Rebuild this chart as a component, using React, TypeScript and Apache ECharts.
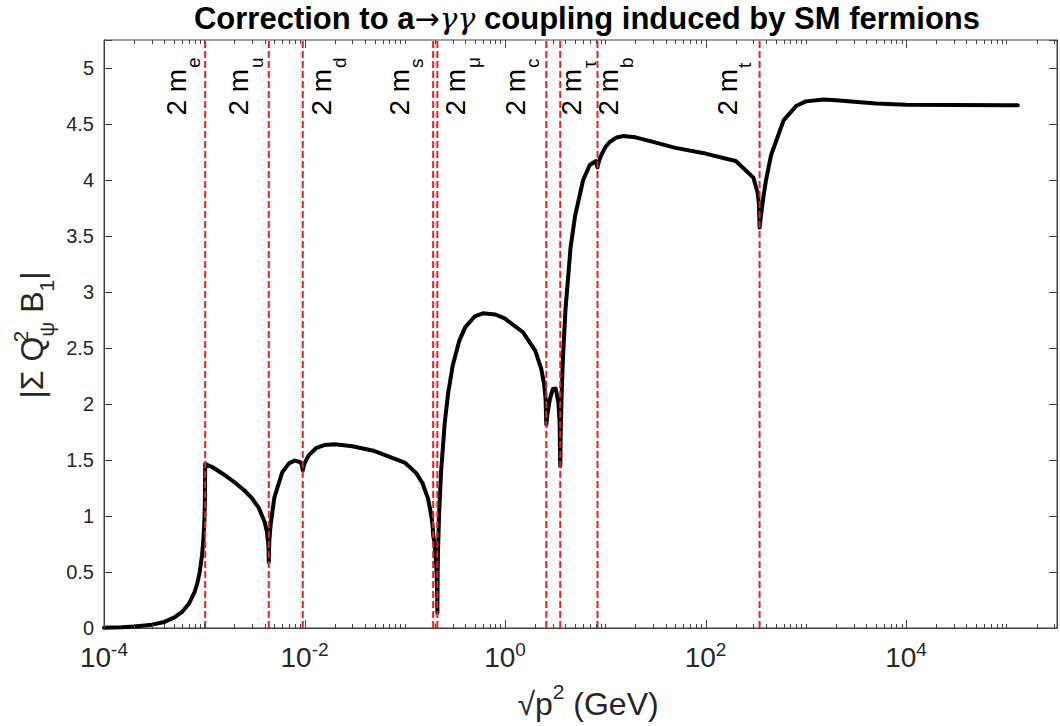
import React, { useEffect, useRef } from 'react';
import * as echarts from 'echarts';

// sqrt(p^2) in GeV
const xs = [1e-4, 1.5e-4, 2e-4, 3e-4, 4e-4, 5e-4, 6e-4, 7e-4, 8e-4, 8.5e-4, 9e-4, 9.5e-4, 9.8e-4, 1.0e-3, 1.01e-3, 1.017e-3, 1.022e-3,
  1.05e-3, 1.2e-3, 1.5e-3, 2e-3, 2.5e-3, 3e-3, 3.5e-3, 4e-3, 4.2e-3, 4.35e-3, 4.38e-3, 4.4e-3, 4.45e-3, 4.6e-3, 5e-3, 6e-3, 7e-3, 8e-3,
  9e-3, 9.4e-3, 9.6e-3, 1e-2, 1.1e-2, 1.3e-2, 1.6e-2, 2e-2, 3e-2, 5e-2, 0.1, 0.13, 0.15, 0.17, 0.18, 0.186, 0.19, 0.192, 0.195, 0.2,
  0.205, 0.207, 0.209, 0.2105, 0.2113, 0.213, 0.215, 0.22, 0.23, 0.25, 0.27, 0.3, 0.35, 0.4, 0.5, 0.6, 0.8, 1.0, 1.5, 2.0, 2.3, 2.45,
  2.5, 2.54, 2.58, 2.65, 2.8, 3.0, 3.2, 3.4, 3.5, 3.554, 3.6, 3.7, 3.8, 4.0, 4.5, 5.0, 6.0, 7.0, 8.0, 8.36, 8.5, 9.0, 10, 11, 13, 15,
  20, 30, 50, 100, 150, 200, 300, 330, 340, 346, 355, 380, 400, 450, 600, 800, 1000, 1500, 2000, 5000, 1e4, 1e5, 1.3e5];

// |Σ Q² B1|
const ys = [0.003, 0.007, 0.013, 0.030, 0.054, 0.092, 0.143, 0.214, 0.321, 0.394, 0.497, 0.647, 0.788, 0.939, 1.056, 1.19, 1.467,
  1.46, 1.437, 1.382, 1.302, 1.23, 1.157, 1.072, 0.946, 0.866, 0.749, 0.697, 0.59, 0.771, 0.928, 1.164, 1.391, 1.47, 1.495,
  1.482, 1.459, 1.407, 1.471, 1.541, 1.605, 1.635, 1.641, 1.623, 1.58, 1.477, 1.383, 1.295, 1.159, 1.05, 0.971, 0.896, 0.827, 0.791, 0.712,
  0.589, 0.516, 0.409, 0.278, 0.136, 0.534, 0.721, 1.02, 1.391, 1.827, 2.089, 2.339, 2.566, 2.684, 2.783, 2.81, 2.799, 2.762, 2.643, 2.477, 2.311, 2.179,
  2.108, 2.03, 1.817, 1.911, 2.044, 2.135, 2.138, 2.019, 1.84, 1.445, 1.81, 2.188, 2.451, 2.833, 3.396, 3.681, 3.998, 4.134, 4.169, 4.112, 4.146, 4.212, 4.292, 4.338, 4.38, 4.392,
  4.381, 4.34, 4.287, 4.236, 4.196, 4.17, 4.021, 3.889, 3.79, 3.575, 3.665, 3.868, 3.995, 4.221, 4.532, 4.661, 4.702, 4.719, 4.713, 4.684, 4.672, 4.667, 4.667];

// thresholds 2m (GeV)
const thresholdValues = [1.022e-3, 4.4e-3, 9.6e-3, 0.192, 0.2113, 2.58, 3.554, 8.36, 346];
const thresholdNames = ['e', 'u', 'd', 's', 'μ', 'c', 'τ', 'b', 't'];
const thresholdSide = [-1, -1, 1, -1, 1, -1, 1, 1, -1];

const xLabelExponents = [-4, -2, 0, 2, 4];
const yTickStep = 0.5;

// styling (pixel offsets of the threshold labels from their lines)
const labelDx = [-1, -2, 5, -6, 4.5, -3, -2.6, -3, -4.5];
const LABEL_Y = 4.575;
const X_MIN = 1e-4;
const X_MAX = 3.2e5;
const Y_MAX = 5.25;

const FONT = "'Liberation Sans', Arial, Helvetica, sans-serif";
const AXIS = '#404040';
const TEXT = '#262626';
const RED = '#f01c24';

export default function App() {
  const ref = useRef<HTMLDivElement>(null);
  useEffect(() => {
    const chart = echarts.init(ref.current!, null, { renderer: 'svg' });

    const tickData: number[][] = [];
    for (let e = -4; e <= 5; e++) {
      for (let m = 1; m <= 9; m++) {
        const v = m * Math.pow(10, e);
        if (v <= X_MAX) tickData.push([v, 0, m === 1 && xLabelExponents.includes(e) ? 1 : 0]);
      }
    }

    const option: any = {
      animation: false,
      backgroundColor: '#ffffff',
      grid: { left: 104, top: 40, width: 962, height: 588, show: true, borderColor: AXIS, borderWidth: 1, backgroundColor: 'transparent' },
      xAxis: {
        type: 'log', logBase: 10, min: X_MIN, max: X_MAX,
        axisLine: { show: true, lineStyle: { color: AXIS, width: 1 } },
        axisTick: { show: false }, minorTick: { show: false }, splitLine: { show: false }, minorSplitLine: { show: false },
        axisLabel: {
          margin: 12,
          color: TEXT,
          formatter: (v: number) => {
            const l = Math.log10(v);
            const e = Math.round(l);
            if (Math.abs(l - e) > 1e-6 || !xLabelExponents.includes(e)) return '';
            return `{b|10}{s|${e}}`;
          },
          rich: {
            b: { fontSize: 28, fontFamily: FONT, lineHeight: 28, verticalAlign: 'top', padding: [3, 0, 0, 0], color: TEXT },
            s: { fontSize: 19, fontFamily: FONT, lineHeight: 19, verticalAlign: 'top', color: TEXT },
          },
        },
      },
      yAxis: [
        {
          type: 'value', min: 0, max: Y_MAX, interval: yTickStep,
          axisLine: { show: true, lineStyle: { color: AXIS, width: 1 } },
          axisTick: { show: true, inside: true, length: 8, lineStyle: { color: AXIS } },
          splitLine: { show: false },
          axisLabel: {
            margin: 10, fontSize: 20, fontFamily: FONT, color: TEXT,
            formatter: (v: number) => (Math.abs(v / yTickStep - Math.round(v / yTickStep)) < 1e-9 && v <= 5 ? String(v) : ''),
          },
        },
        {
          type: 'value', position: 'right', min: 0, max: Y_MAX, interval: yTickStep,
          axisLine: { show: true, lineStyle: { color: AXIS, width: 1 } },
          axisTick: { show: true, inside: true, length: 8, lineStyle: { color: AXIS } },
          splitLine: { show: false },
          axisLabel: { show: false },
        },
      ],
      series: [
        {
          type: 'line',
          data: xs.map((x, i) => [x, ys[i]]),
          showSymbol: false,
          symbol: 'none',
          lineStyle: { color: '#000000', width: 4, join: 'round', cap: 'round' },
          z: 2,
          silent: true,
        },
        {
          type: 'custom',
          z: 3,
          silent: true,
          data: thresholdValues.map((v, i) => [v, 0, i]),
          encode: { x: 0, y: 1 },
          renderItem: (params: any, api: any) => {
            const i = api.value(2);
            const v = api.value(0);
            const cs = params.coordSys;
            const x = api.coord([v, 0])[0];
            const ty = api.coord([v, LABEL_Y])[1];
            const side = thresholdSide[i];
            return {
              type: 'group',
              children: [
                {
                  type: 'line',
                  shape: { x1: x, y1: cs.y + cs.height, x2: x, y2: cs.y },
                  style: { stroke: RED, lineWidth: 2, lineDash: [7, 3] },
                },
                {
                  type: 'text',
                  x: x + labelDx[i],
                  y: ty,
                  rotation: Math.PI / 2,
                  style: {
                    text: `{m|2 m}{s|${thresholdNames[i]}}`,
                    align: 'left',
                    verticalAlign: side < 0 ? 'bottom' : 'top',
                    fill: '#000',
                    rich: {
                      m: { fontSize: 28, fontFamily: FONT, lineHeight: 42, verticalAlign: 'top', fill: '#000' },
                      s: { fontSize: 19, fontFamily: FONT, lineHeight: 19, verticalAlign: 'top', padding: [22, 0, 0, 1], fill: '#000' },
                    },
                  },
                },
              ],
            };
          },
        },
        {
          type: 'custom',
          z: 4,
          silent: true,
          data: tickData,
          encode: { x: 0, y: 1 },
          renderItem: (params: any, api: any) => {
            const v = api.value(0);
            const major = api.value(2) === 1;
            const cs = params.coordSys;
            const x = Math.round(api.coord([v, 0])[0]) + 0.5;
            const len = major ? 8 : 4;
            const top = cs.y;
            const bottom = cs.y + cs.height;
            return {
              type: 'group',
              children: [
                { type: 'line', shape: { x1: x, y1: bottom, x2: x, y2: bottom - len }, style: { stroke: AXIS, lineWidth: 1 } },
                { type: 'line', shape: { x1: x, y1: top, x2: x, y2: top + len }, style: { stroke: AXIS, lineWidth: 1 } },
              ],
            };
          },
        },
      ],
      graphic: [
        {
          type: 'text', x: 587, y: 18,
          style: {
            text: '{b|Correction to a}{a|→}{r|γγ}{b| coupling induced by SM fermions}',
            align: 'center', verticalAlign: 'middle',
            rich: {
              b: { fontSize: 31, fontWeight: 'bold', fontFamily: FONT, fill: '#000' },
              a: { fontSize: 30, fontFamily: "'DejaVu Sans', sans-serif", fill: '#000' },
              r: { fontSize: 30, fontStyle: 'italic', fontFamily: "'DejaVu Serif', serif", fill: '#000' },
            },
          },
        },
        {
          type: 'text', x: 588, y: 700,
          style: {
            text: '{n|√p}{p|2}{n| (GeV)}',
            align: 'center', verticalAlign: 'middle',
            rich: {
              n: { fontSize: 32, fontFamily: FONT, lineHeight: 39, verticalAlign: 'top', padding: [7, 0, 0, 0], fill: TEXT },
              p: { fontSize: 21, fontFamily: FONT, lineHeight: 21, verticalAlign: 'top', fill: TEXT },
            },
          },
        },
        {
          type: 'text', x: 31, y: 335, rotation: Math.PI / 2,
          style: {
            text: '{n||Σ Q}{p|2}{b|ψ}{n| B}{b|1}{n||}',
            align: 'center', verticalAlign: 'middle',
            rich: {
              n: { fontSize: 32, fontFamily: FONT, lineHeight: 50, verticalAlign: 'top', padding: [10, 0, 0, 0], fill: TEXT },
              p: { fontSize: 21, fontFamily: FONT, lineHeight: 21, verticalAlign: 'top', padding: [4, 0, 0, 0], width: 0, fill: TEXT },
              b: { fontSize: 21, fontFamily: FONT, lineHeight: 21, verticalAlign: 'top', padding: [30, 0, 0, 0], fill: TEXT },
            },
          },
        },
      ],
    };

    chart.setOption(option);
    return () => chart.dispose();
  }, []);
  return <div ref={ref} style={{ position: 'fixed', left: 0, top: 0, width: 1060, height: 726 }} />;
}
